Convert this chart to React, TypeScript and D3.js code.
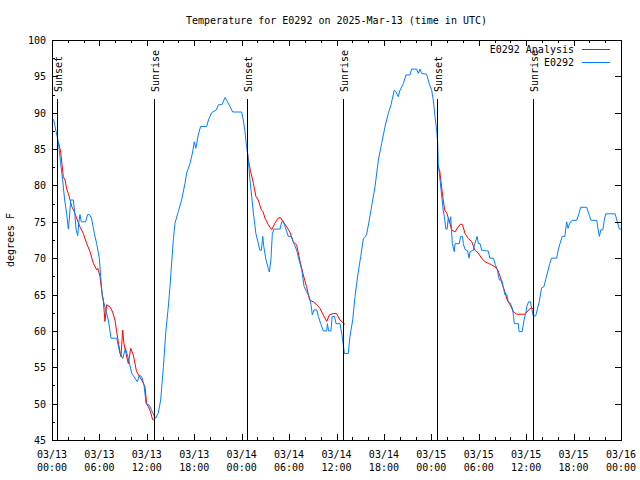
import React from "react";
import * as d3 from "d3";

// ---- data (hours since 2025-03-13 00:00 UTC, degrees F) ----
const obsHours = [0.2,0.5,0.8,1.1,1.35,1.6,1.85,2.07,2.2,2.36,2.7,2.9,3.04,3.25,3.4,3.54,3.7,3.88,4.26,4.5,4.72,5.0,5.36,5.65,5.99,6.16,6.37,6.7,7.13,7.47,8.18,8.6,8.94,9.3,9.66,10.08,10.5,10.8,11.05,11.35,11.64,11.9,12.3,12.6,12.9,13.12,13.45,13.75,14.1,14.4,14.7,14.93,15.35,15.56,15.98,16.4,16.83,17.04,17.46,17.8,18.0,18.2,18.5,18.8,19.57,19.8,20.2,20.8,21.05,21.5,21.9,22.2,22.5,22.86,24.0,24.2,24.4,24.6,24.84,25.05,25.27,25.48,25.8,26.0,26.3,26.5,26.66,26.8,27.08,27.37,27.5,27.7,27.88,28.1,28.86,29.06,29.3,29.5,29.9,30.3,30.5,30.96,31.2,31.6,31.9,32.2,32.56,32.77,32.94,33.15,33.5,33.7,34.0,34.33,34.76,34.85,35.0,35.3,35.45,35.75,35.94,36.44,36.7,36.86,37.0,37.5,37.7,38.05,38.34,38.7,39.06,39.4,39.8,40.15,40.5,40.87,41.3,41.72,42.14,42.56,42.9,43.3,43.5,43.82,44.0,44.45,44.8,45.3,45.5,46.15,46.35,46.55,46.78,47.4,47.74,48.04,48.25,48.46,48.67,48.8,48.88,49.1,49.3,49.5,49.65,49.85,50.0,50.14,50.3,50.45,50.66,50.9,51.0,51.54,51.7,51.95,52.05,52.26,52.6,52.77,52.9,53.3,53.5,53.8,53.95,54.16,54.37,55.0,55.2,55.4,55.85,56.1,56.35,56.6,56.9,57.1,57.3,57.55,57.74,58.0,58.3,58.4,58.5,59.0,59.1,59.5,59.73,59.98,60.1,60.3,60.55,60.7,60.9,61.2,61.4,61.65,61.95,62.25,62.5,62.72,63.0,63.2,63.86,64.05,64.28,64.57,64.9,65.12,65.3,65.5,65.8,66.4,66.7,66.9,67.66,67.9,68.2,68.94,69.05,69.26,69.45,69.7,69.85,70.06,71.26,71.47,71.8,72.0];
const obsTemps = [89.1,87.5,86.0,83.0,80.75,78.0,76.2,74.0,75.5,78.0,78.0,76.0,74.0,73.1,75.0,76.0,75.0,75.0,75.0,76.0,76.0,75.5,73.4,72.0,70.0,67.5,64.7,63.3,61.5,59.0,59.0,56.9,56.2,57.6,56.2,54.2,53.5,53.0,53.9,53.7,52.6,50.0,49.8,49.1,48.4,48.0,48.7,50.5,55.1,59.9,63.1,66.1,72.5,74.8,76.4,78.0,80.3,81.7,83.0,84.6,86.0,85.1,86.9,88.1,88.1,89.0,90.0,90.4,91.1,91.1,92.1,91.5,90.9,90.1,90.1,89.0,87.6,85.6,83.5,80.75,78.5,76.2,73.4,72.5,71.1,71.1,73.0,71.6,69.75,68.6,68.1,69.75,73.4,74.0,74.0,75.0,75.0,74.3,73.0,73.0,72.3,71.1,70.0,68.4,66.1,65.4,64.7,63.6,62.2,62.9,62.9,62.0,61.0,60.0,60.0,61.0,60.0,60.0,62.0,62.0,61.0,61.0,59.4,58.1,56.9,56.9,59.2,61.5,64.7,67.7,70.2,72.7,73.2,75.25,77.5,79.8,83.5,85.8,88.1,89.9,91.1,93.1,92.9,92.2,93.0,94.0,95.2,95.2,96.0,96.0,95.4,96.0,95.4,95.3,94.0,93.1,91.75,89.45,87.6,86.0,83.0,80.75,78.7,76.6,75.7,74.0,74.0,75.5,74.8,75.7,72.0,70.9,72.0,72.0,73.0,73.0,72.0,71.2,71.0,70.0,70.9,71.1,72.0,73.0,72.0,72.0,71.1,71.0,71.0,70.0,70.0,69.1,68.4,67.0,67.0,66.1,65.0,65.0,64.0,63.8,62.9,62.0,61.0,61.0,59.9,59.9,61.5,62.6,63.4,64.0,64.0,63.1,62.05,62.05,62.9,64.0,65.9,66.1,67.2,68.1,69.3,70.0,70.0,71.1,72.0,73.0,73.0,75.0,74.1,74.8,75.2,75.2,76.2,77.0,77.0,76.2,75.2,75.2,74.3,73.0,73.9,73.9,75.0,76.1,76.1,75.25,74.0,74.0];

const anaHours1 = [0.8,1.1,1.43,1.65,1.86,2.07,2.5,2.82,3.2,3.54,3.96,4.39,4.81,5.23,5.65,5.8,6.07,6.28,6.49,6.7,6.92,7.34,7.67,7.97,8.18,8.39,8.6,8.73,8.94,9.1,9.36,9.66,9.96,10.29,10.7,11.35,11.77,11.98,12.4,12.74,13.0];
const anaTemps1 = [86.0,84.6,81.2,80.75,79.5,78.9,77.1,76.4,75.25,74.3,73.4,72.0,70.9,69.3,68.4,68.6,67.5,65.6,64.25,61.3,63.6,63.3,62.6,61.5,59.9,58.5,57.1,56.45,60.1,58.3,56.9,55.5,57.6,56.7,54.4,53.25,52.3,50.0,49.1,47.8,47.7];
const anaHours2 = [24.75,24.84,25.1,25.48,25.8,26.1,26.5,26.7,26.95,27.37,27.8,28.2,28.6,28.9,29.26,29.7,30.1,30.5,30.96,31.4,31.8,32.2,32.6,33.06,33.5,33.9,34.33,34.76,35.1,35.6,36.0,36.44,37.07];
const anaTemps2 = [84.5,83.5,82.1,80.3,78.5,78.0,76.6,76.4,75.5,74.6,73.9,74.8,75.5,75.6,75.0,74.3,73.6,72.3,71.8,69.5,67.7,66.1,64.25,64.0,63.6,63.1,62.2,61.3,62.2,62.4,62.4,61.5,60.9];
const anaHours3 = [48.8,49.05,49.3,49.5,49.7,49.95,50.36,50.57,50.99,51.4,51.7,51.95,52.26,52.68,53.1,53.5,53.9,54.37,54.8,55.2,55.6,56.06,56.4,56.7,57.0,57.3,57.6,57.95,58.4,58.8,59.85,60.1,60.5,60.9];
const anaTemps3 = [82.6,82.1,79.8,78.0,76.6,76.2,74.8,73.9,73.6,74.3,74.7,74.6,73.4,72.7,72.3,71.1,70.75,70.0,69.5,69.3,69.1,68.8,68.4,67.5,66.3,65.4,64.25,63.6,62.6,62.3,62.3,62.6,63.1,63.1];

const sunEventHours = [0.67, 12.95, 24.72, 36.87, 48.76, 60.9];
const sunEventLabels = ["Sunset", "Sunrise", "Sunset", "Sunrise", "Sunset", "Sunrise"];

const xTickHours = [0, 6, 12, 18, 24, 30, 36, 42, 48, 54, 60, 66, 72];
const xTickDates = ["03/13","03/13","03/13","03/13","03/14","03/14","03/14","03/14","03/15","03/15","03/15","03/15","03/16"];
const xTickTimes = ["00:00","06:00","12:00","18:00","00:00","06:00","12:00","18:00","00:00","06:00","12:00","18:00","00:00"];
const yTicks = [45, 50, 55, 60, 65, 70, 75, 80, 85, 90, 95, 100];

const title = "Temperature for E0292 on 2025-Mar-13 (time in UTC)";
const yLabel = "degrees F";
const seriesNames = ["E0292 Analysis", "E0292"];
const seriesColors = ["#ff0000", "#0080ff"];

const W = 640, H = 480;
const L = 52, R = 621, T = 40, B = 440;
const FONT = "'DejaVu Sans Mono', 'Liberation Mono', monospace";

export default function App() {
  const x = d3.scaleLinear().domain([0, 72]).range([L, R]);
  const y = d3.scaleLinear().domain([45, 100]).range([B, T]);
  const line = d3.line<[number, number]>().x(d => x(d[0])).y(d => y(d[1]));

  const obs: [number, number][] = obsHours.map((h, i) => [h, obsTemps[i]]);
  const anaSegs: [number, number][][] = [
    anaHours1.map((h, i) => [h, anaTemps1[i]] as [number, number]),
    anaHours2.map((h, i) => [h, anaTemps2[i]] as [number, number]),
    anaHours3.map((h, i) => [h, anaTemps3[i]] as [number, number]),
  ];

  const minorX = d3.range(0, 73, 2).filter(h => h % 6 !== 0);
  const minorY = d3.range(47.5, 100, 5);

  return (
    <svg width={W} height={H} style={{ position: "absolute", left: 0, top: 0, background: "#fff" }} fontFamily={FONT} fontSize={10}>
      <rect x={0} y={0} width={W} height={H} fill="#fff" />
      <text x={(L + R) / 2} y={24} textAnchor="middle" fill="#000">{title}</text>

      {/* data */}
      {anaSegs.map((seg, i) => (
        <path key={"a" + i} d={line(seg) || ""} fill="none" stroke={seriesColors[0]} strokeWidth={1} />
      ))}
      <path d={line(obs) || ""} fill="none" stroke={seriesColors[1]} strokeWidth={1} />

      {/* sunrise / sunset markers */}
      {sunEventHours.map((h, i) => (
        <g key={"s" + i}>
          <line x1={Math.round(x(h)) + 0.5} x2={Math.round(x(h)) + 0.5} y1={99} y2={B} stroke="#000" strokeWidth={1} />
          <text transform={`translate(${Math.round(x(h)) + 4.5},92) rotate(-90)`} textAnchor="start" fill="#000">{sunEventLabels[i]}</text>
        </g>
      ))}

      {/* frame */}
      <rect x={L + 0.5} y={T + 0.5} width={R - L} height={B - T} fill="none" stroke="#000" strokeWidth={1} shapeRendering="crispEdges" />

      {/* x ticks */}
      {xTickHours.map((h, i) => {
        const px = Math.round(x(h)) + 0.5;
        return (
          <g key={"xt" + i}>
            <line x1={px} x2={px} y1={B} y2={B - 6} stroke="#000" shapeRendering="crispEdges" />
            <line x1={px} x2={px} y1={T} y2={T + 6} stroke="#000" shapeRendering="crispEdges" />
            <text x={x(h)} y={458} textAnchor="middle" fill="#000">{xTickDates[i]}</text>
            <text x={x(h)} y={471} textAnchor="middle" fill="#000">{xTickTimes[i]}</text>
          </g>
        );
      })}
      {minorX.map((h, i) => {
        const px = Math.round(x(h)) + 0.5;
        return (
          <g key={"xm" + i}>
            <line x1={px} x2={px} y1={B} y2={B - 3} stroke="#000" shapeRendering="crispEdges" />
            <line x1={px} x2={px} y1={T} y2={T + 3} stroke="#000" shapeRendering="crispEdges" />
          </g>
        );
      })}

      {/* y ticks */}
      {yTicks.map((v, i) => {
        const py = Math.round(y(v)) + 0.5;
        return (
          <g key={"yt" + i}>
            <line x1={L} x2={L + 6} y1={py} y2={py} stroke="#000" shapeRendering="crispEdges" />
            <line x1={R} x2={R - 6} y1={py} y2={py} stroke="#000" shapeRendering="crispEdges" />
            <text x={46} y={y(v) + 4} textAnchor="end" fill="#000">{v}</text>
          </g>
        );
      })}
      {minorY.map((v, i) => {
        const py = Math.round(y(v)) + 0.5;
        return <line key={"ym" + i} x1={L} x2={L + 3} y1={py} y2={py} stroke="#000" shapeRendering="crispEdges" />;
      })}

      <text transform={`translate(14,240) rotate(-90)`} textAnchor="middle" fill="#000">{yLabel}</text>

      {/* legend */}
      {seriesNames.map((n, i) => (
        <g key={"lg" + i}>
          <text x={574} y={53 + i * 13} textAnchor="end" fill="#000">{n}</text>
          <line x1={582} x2={610} y1={49.5 + i * 13} y2={49.5 + i * 13} stroke={seriesColors[i]} strokeWidth={1} />
        </g>
      ))}
    </svg>
  );
}
